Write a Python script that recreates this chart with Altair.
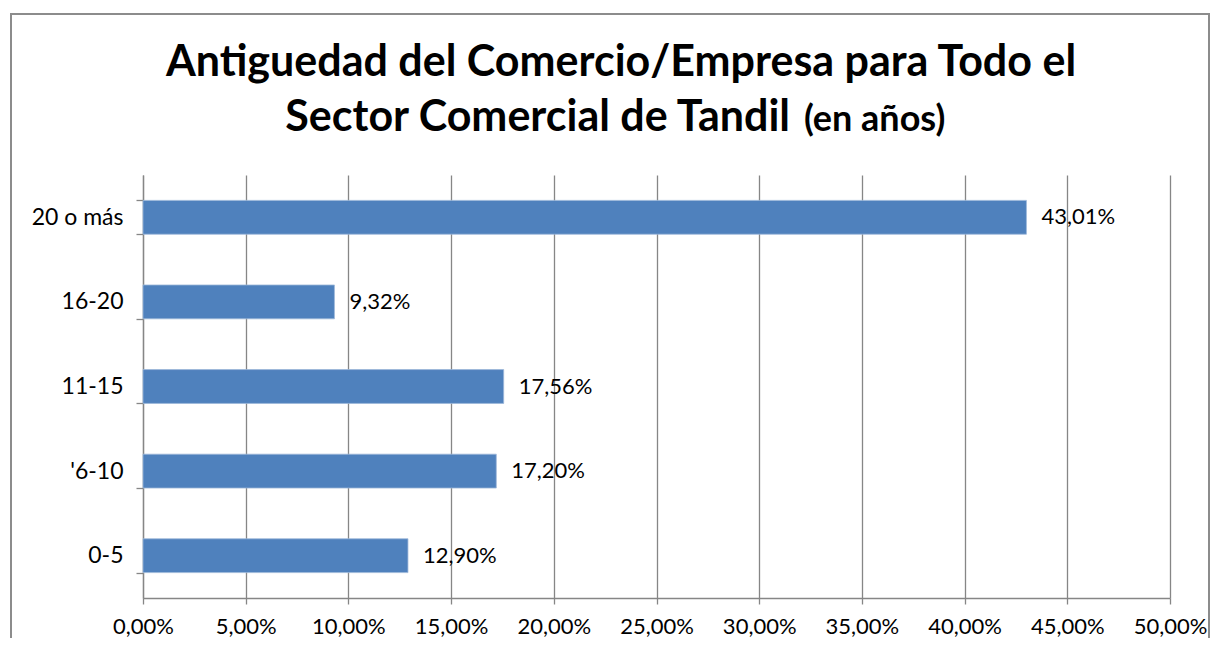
import altair as alt
import pandas as pd

categories = ["20 o más", "16-20", "11-15", "'6-10", "0-5"]
values = [43.01, 9.32, 17.56, 17.20, 12.90]
x_ticks = [0, 5, 10, 15, 20, 25, 30, 35, 40, 45, 50]
title_line1 = "Antiguedad del Comercio/Empresa para Todo el"
title_line2_main = "Sector Comercial de Tandil"
title_line2_small = "(en años)"

df = pd.DataFrame({"cat": categories, "val": values})

W, H = 1027, 423
GRAY = "#868686"
FONT = "Lato"
LBL = 22

base = alt.Chart(df)

bars = base.mark_bar(color="#4F81BD", stroke="#9DB7D9", strokeWidth=0.8).encode(
    x=alt.X(
        "val:Q",
        scale=alt.Scale(domain=[0, 50], nice=False, zero=True),
        axis=alt.Axis(
            values=x_ticks,
            labelExpr="replace(format(datum.value, '.2f'), '.', ',') + '%'",
            labelFlush=False,
            grid=True, gridColor=GRAY, gridWidth=1.3,
            domainColor=GRAY, domainWidth=1.3,
            tickColor=GRAY, tickSize=6, tickWidth=1.3,
            labelFont=FONT, labelFontSize=LBL, labelColor="#000000",
            labelPadding=12, title=None,
        ),
    ),
    y=alt.Y(
        "cat:N",
        sort=categories,
        scale=alt.Scale(paddingInner=0.6, paddingOuter=0.3),
        axis=alt.Axis(
            tickBand="extent", grid=False,
            domainColor=GRAY, domainWidth=1.3,
            tickColor=GRAY, tickSize=7, tickWidth=1.3,
            labelFont=FONT, labelFontSize=23, labelColor="#000000",
            labelPadding=13, title=None,
        ),
    ),
)

labels = base.transform_calculate(
    lbl="replace(format(datum.val, '.2f'), '.', ',') + '%'"
).mark_text(align="left", baseline="middle", dx=15, font=FONT, fontSize=LBL, color="#000000").encode(
    x="val:Q",
    y=alt.Y("cat:N", sort=categories),
    text="lbl:N",
)

one = pd.DataFrame({"a": [0]})
border = alt.Chart(one).mark_rect(fillOpacity=0, stroke="#8C8C8C", strokeWidth=2).encode(
    x=alt.value(-132), x2=alt.value(1066), y=alt.value(-161), y2=alt.value(520)
)
t1 = alt.Chart(one).mark_text(
    text=title_line1, font=FONT, fontSize=43, fontWeight="bold", align="center", baseline="alphabetic", color="#000000"
).encode(x=alt.value(478), y=alt.value(-99))
t2 = alt.Chart(one).mark_text(
    text=title_line2_main, font=FONT, fontSize=43, fontWeight="bold", align="right", baseline="alphabetic", color="#000000"
).encode(x=alt.value(647), y=alt.value(-44))
t3 = alt.Chart(one).mark_text(
    text=title_line2_small, font=FONT, fontSize=36, fontWeight="bold", align="left", baseline="alphabetic", color="#000000"
).encode(x=alt.value(661), y=alt.value(-44))

chart = alt.layer(border, bars, labels, t1, t2, t3).properties(
    width=W, height=H,
    autosize=alt.AutoSizeParams(type="none"),
    padding={"left": 135, "top": 167, "right": 41, "bottom": 40},
).configure_view(stroke=None)

chart.save("out.html", embed_options={"renderer": "svg", "actions": False})
